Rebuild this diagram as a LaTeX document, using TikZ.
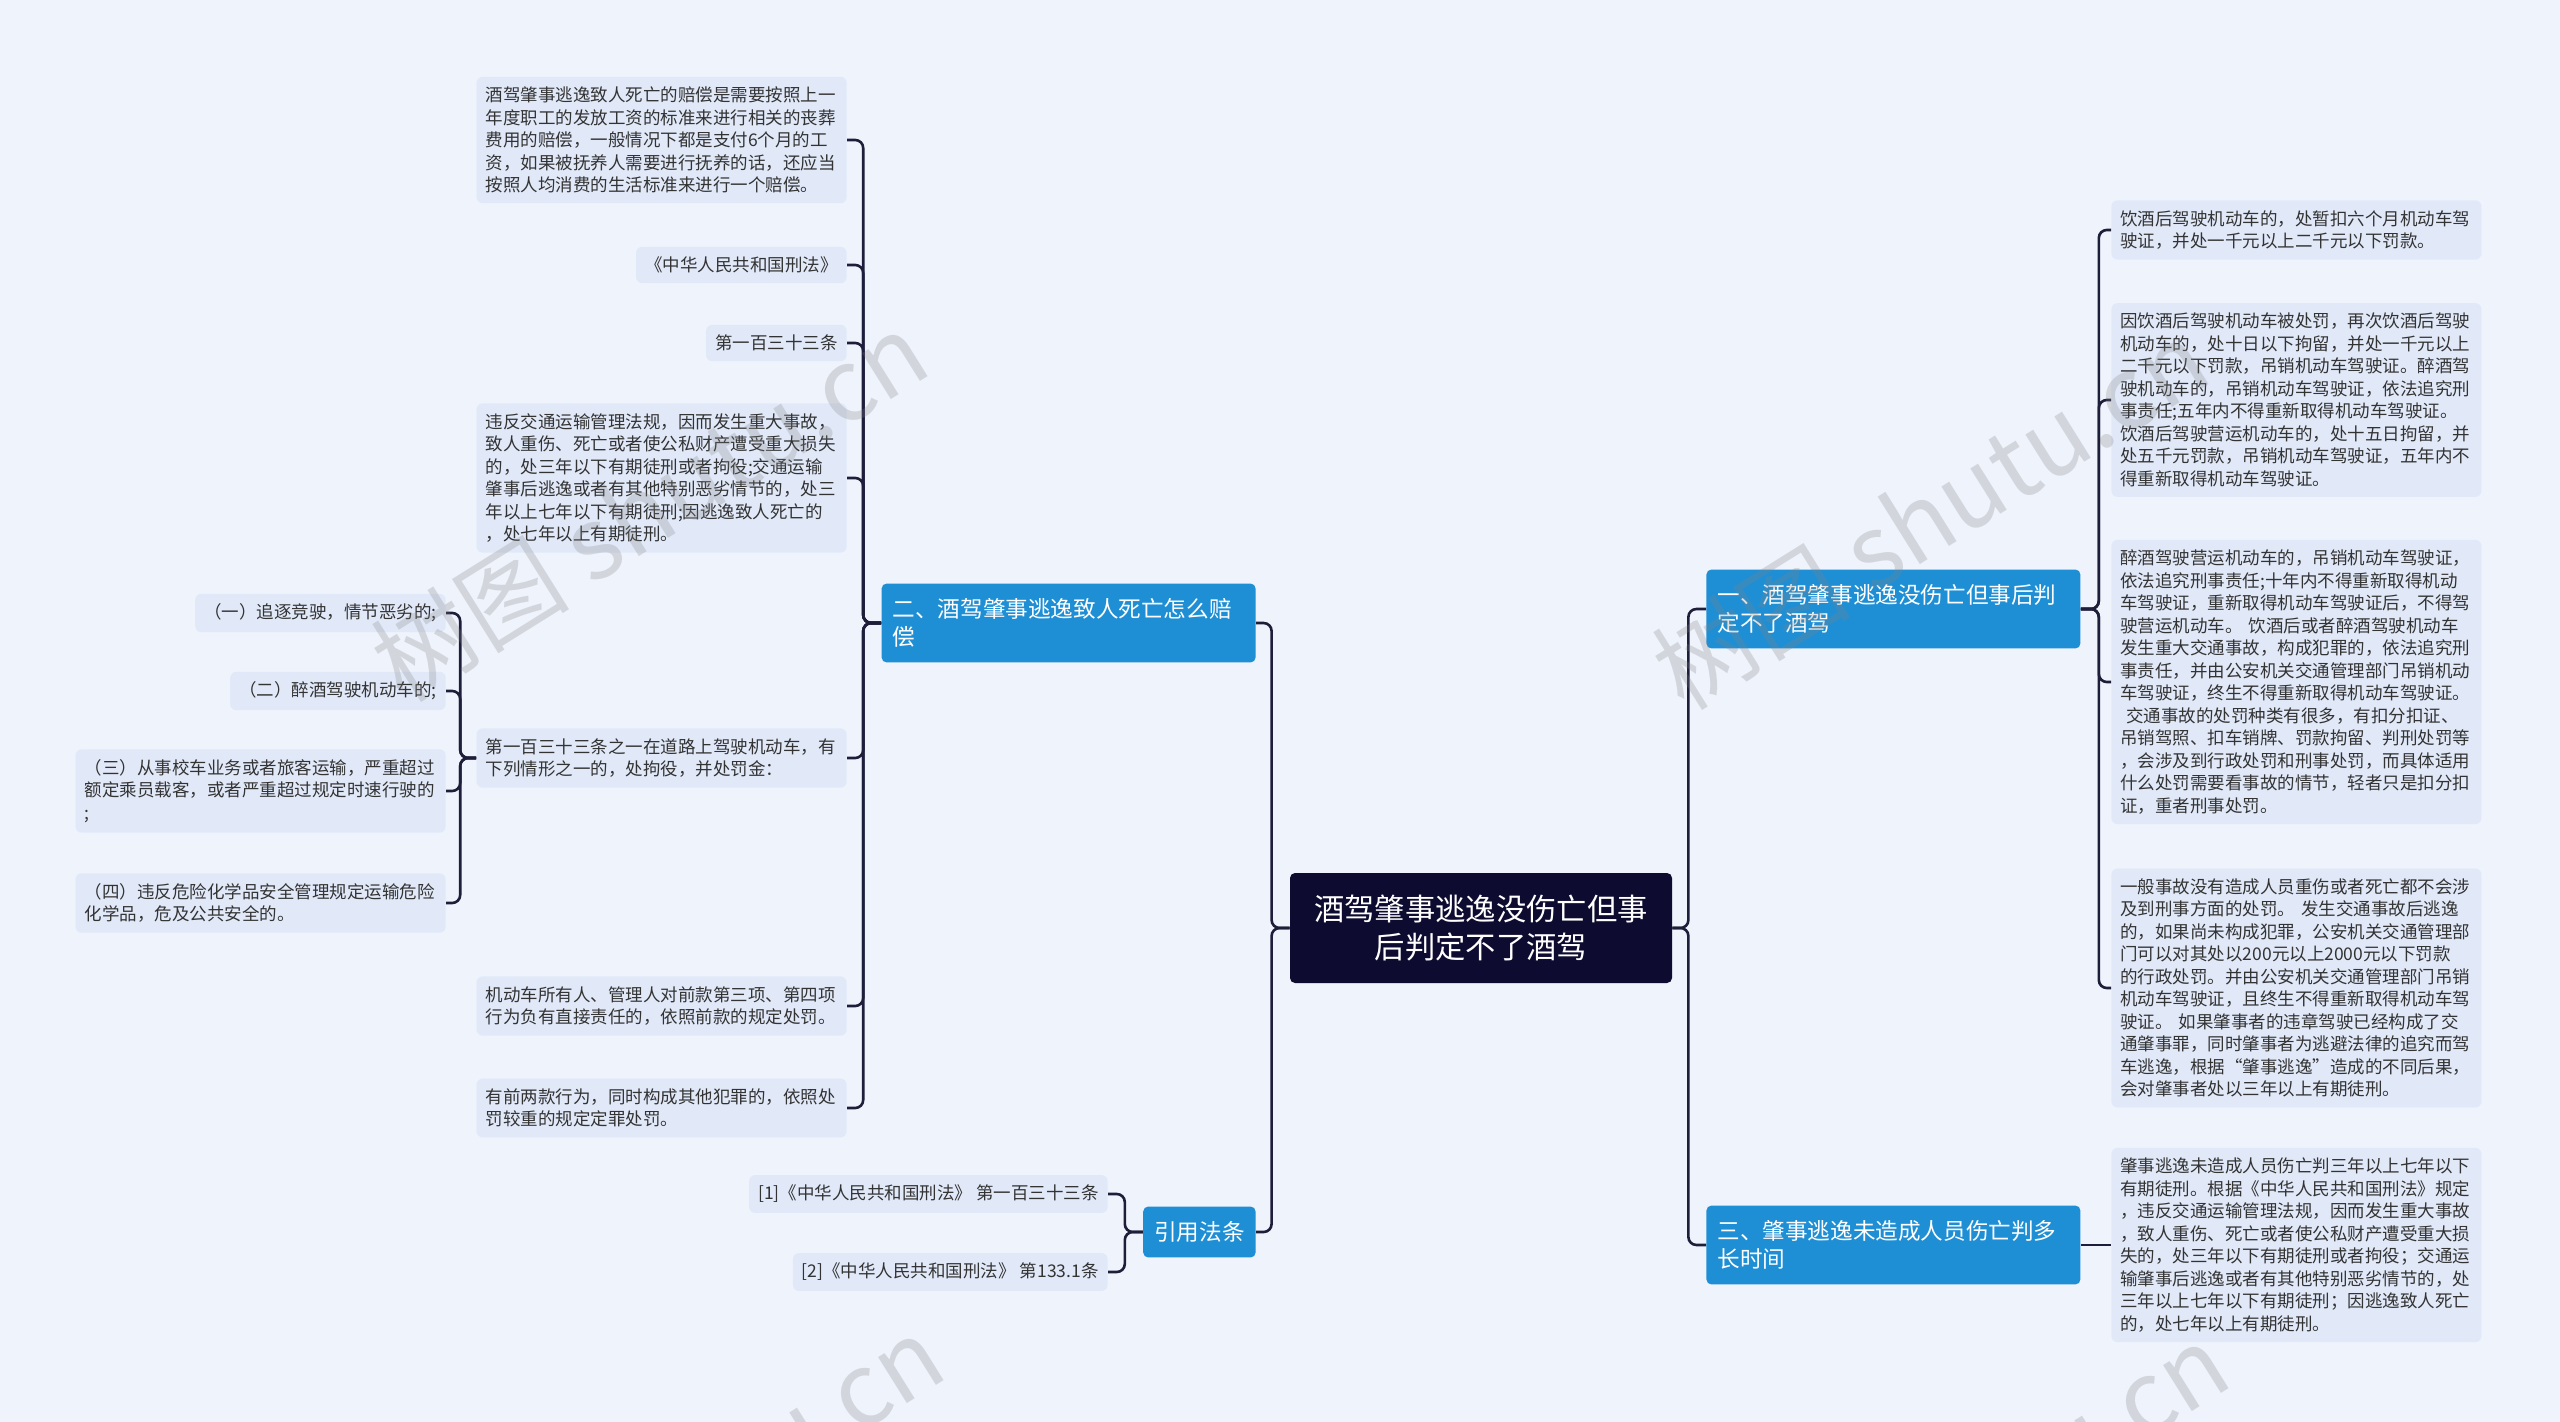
\documentclass[tikz,border=0pt]{standalone}
\usepackage{fontspec}
\setmainfont{Noto Sans CJK SC}
\definecolor{bgcol}{HTML}{EEF3FC}
\definecolor{leafcol}{HTML}{E1E9F9}
\definecolor{branchcol}{HTML}{1F8FD5}
\definecolor{rootcol}{HTML}{0D0B2F}
\definecolor{linecol}{HTML}{1E1D3A}
\definecolor{txtcol}{HTML}{333333}
\begin{document}
\begin{tikzpicture}[x=0.5pt, y=-0.5pt,
  leaf/.style={fill=leafcol, rounded corners=3pt, text=txtcol, inner xsep=4.5pt, inner ysep=5pt,
    font=\fontsize{8.75pt}{11.25pt}\selectfont},
  longleaf/.style={leaf, text width=176pt, align=left},
  branch/.style={fill=branchcol, rounded corners=2.5pt, text=white, inner xsep=5.5pt, inner ysep=7.5pt,
    font=\fontsize{11.3pt}{14pt}\selectfont, align=left},
  rootbox/.style={fill=rootcol, rounded corners=2.5pt, text=white, minimum width=191pt, minimum height=55pt,
    font=\fontsize{15.15pt}{19pt}\selectfont, align=center},
  conn/.style={draw=linecol, line width=1.3pt, rounded corners=4pt},
  wmtext/.style={text=gray, opacity=0.25, font=\fontsize{50pt}{50pt}\selectfont, rotate=32}]

  % --- 背景 ---
  \useasboundingbox (0,0) rectangle (2560,1422);
  \fill[bgcol] (0,0) rectangle (2560,1422);

  % --- 中心主题 ---
  \node[rootbox] (root) at (1481,928) {酒驾肇事逃逸没伤亡但事\\后判定不了酒驾};

  % --- 一级分支 ---
  \node[branch, text width=176pt, anchor=east] (b2) at (1256,623) {二、酒驾肇事逃逸致人死亡怎么赔\\偿};
  \node[branch, anchor=east] (b4) at (1256,1232) {引用法条};
  \node[branch, text width=176pt, anchor=west] (b1) at (1706,609) {一、酒驾肇事逃逸没伤亡但事后判\\定不了酒驾};
  \node[branch, text width=176pt, anchor=west] (b3) at (1706,1245) {三、肇事逃逸未造成人员伤亡判多\\长时间};

  % --- 分支二的内容 ---
  \node[longleaf, anchor=east] (l1) at (847,140) {酒驾肇事逃逸致人死亡的赔偿是需要按照上一\\年度职工的发放工资的标准来进行相关的丧葬\\费用的赔偿，一般情况下都是支付6个月的工\\资，如果被抚养人需要进行抚养的话，还应当\\按照人均消费的生活标准来进行一个赔偿。};
  \node[leaf, anchor=east] (l2) at (847,265) {《中华人民共和国刑法》};
  \node[leaf, anchor=east] (l3) at (847,343) {第一百三十三条};
  \node[longleaf, anchor=east] (l4) at (847,478) {违反交通运输管理法规，因而发生重大事故，\\致人重伤、死亡或者使公私财产遭受重大损失\\的，处三年以下有期徒刑或者拘役;交通运输\\肇事后逃逸或者有其他特别恶劣情节的，处三\\年以上七年以下有期徒刑;因逃逸致人死亡的\\，处七年以上有期徒刑。};
  \node[longleaf, anchor=east] (l5) at (847,758) {第一百三十三条之一在道路上驾驶机动车，有\\下列情形之一的，处拘役，并处罚金：};
  \node[longleaf, anchor=east] (l6) at (847,1006) {机动车所有人、管理人对前款第三项、第四项\\行为负有直接责任的，依照前款的规定处罚。};
  \node[longleaf, anchor=east] (l7) at (847,1108) {有前两款行为，同时构成其他犯罪的，依照处\\罚较重的规定定罪处罚。};

  % 第一百三十三条之一的各项情形
  \node[leaf, anchor=east] (s1) at (446,613) {（一）追逐竞驶，情节恶劣的;};
  \node[leaf, anchor=east] (s2) at (446,691) {（二）醉酒驾驶机动车的;};
  \node[longleaf, anchor=east] (s3) at (446,791) {（三）从事校车业务或者旅客运输，严重超过\\额定乘员载客，或者严重超过规定时速行驶的\\;};
  \node[longleaf, anchor=east] (s4) at (446,903) {（四）违反危险化学品安全管理规定运输危险\\化学品，危及公共安全的。};

  % --- 引用法条 ---
  \node[leaf, anchor=east] (c1) at (1108,1194) {[1]《中华人民共和国刑法》 第一百三十三条};
  \node[leaf, anchor=east] (c2) at (1108,1272) {[2]《中华人民共和国刑法》 第133.1条};

  % --- 分支一的内容 ---
  \node[longleaf, anchor=west] (r1) at (2111,230) {饮酒后驾驶机动车的，处暂扣六个月机动车驾\\驶证，并处一千元以上二千元以下罚款。};
  \node[longleaf, anchor=west] (r2) at (2111,400) {因饮酒后驾驶机动车被处罚，再次饮酒后驾驶\\机动车的，处十日以下拘留，并处一千元以上\\二千元以下罚款，吊销机动车驾驶证。醉酒驾\\驶机动车的，吊销机动车驾驶证，依法追究刑\\事责任;五年内不得重新取得机动车驾驶证。\\饮酒后驾驶营运机动车的，处十五日拘留，并\\处五千元罚款，吊销机动车驾驶证，五年内不\\得重新取得机动车驾驶证。};
  \node[longleaf, anchor=west] (r3) at (2111,682) {醉酒驾驶营运机动车的，吊销机动车驾驶证，\\依法追究刑事责任;十年内不得重新取得机动\\车驾驶证，重新取得机动车驾驶证后，不得驾\\驶营运机动车。 饮酒后或者醉酒驾驶机动车\\发生重大交通事故，构成犯罪的，依法追究刑\\事责任，并由公安机关交通管理部门吊销机动\\车驾驶证，终生不得重新取得机动车驾驶证。\\\ 交通事故的处罚种类有很多，有扣分扣证、\\吊销驾照、扣车销牌、罚款拘留、判刑处罚等\\，会涉及到行政处罚和刑事处罚，而具体适用\\什么处罚需要看事故的情节，轻者只是扣分扣\\证，重者刑事处罚。};
  \node[longleaf, anchor=west] (r4) at (2111,988) {一般事故没有造成人员重伤或者死亡都不会涉\\及到刑事方面的处罚。 发生交通事故后逃逸\\的，如果尚未构成犯罪，公安机关交通管理部\\门可以对其处以200元以上2000元以下罚款\\的行政处罚。并由公安机关交通管理部门吊销\\机动车驾驶证，且终生不得重新取得机动车驾\\驶证。 如果肇事者的违章驾驶已经构成了交\\通肇事罪，同时肇事者为逃避法律的追究而驾\\车逃逸，根据“肇事逃逸”造成的不同后果，\\会对肇事者处以三年以上有期徒刑。};

  % --- 分支三的内容 ---
  \node[longleaf, anchor=west] (r5) at (2111,1245) {肇事逃逸未造成人员伤亡判三年以上七年以下\\有期徒刑。根据《中华人民共和国刑法》规定\\，违反交通运输管理法规，因而发生重大事故\\，致人重伤、死亡或者使公私财产遭受重大损\\失的，处三年以下有期徒刑或者拘役；交通运\\输肇事后逃逸或者有其他特别恶劣情节的，处\\三年以上七年以下有期徒刑；因逃逸致人死亡\\的，处七年以上有期徒刑。};

  % --- 连线 ---
  \foreach \c in {b2,b4} \draw[conn] (root.west) -- ++(-18,0) |- (\c.east);
  \foreach \c in {b1,b3} \draw[conn] (root.east) -- ++(16,0) |- (\c.west);
  \foreach \c in {l1,l2,l3,l4,l5,l6,l7} \draw[conn] (b2.west) -- ++(-18,0) |- (\c.east);
  \foreach \c in {s1,s2,s3,s4} \draw[conn] (l5.west) -- ++(-16,0) |- (\c.east);
  \foreach \c in {c1,c2} \draw[conn] (b4.west) -- ++(-18,0) |- (\c.east);
  \foreach \c in {r1,r2,r3,r4} \draw[conn] (b1.east) -- ++(18,0) |- (\c.west);
  \draw[conn] (b3.east) -- (r5.west);

  % --- 水印 ---
  \begin{scope}
    \clip (0,0) rectangle (2560,1422);
    \node[wmtext] (wm1) at (649,506) {树图 shutu.cn};
    \node[wmtext] (wm2) at (1930,514) {树图 shutu.cn};
    \node[wmtext] (wm3) at (665,1510) {树图 shutu.cn};
    \node[wmtext] (wm4) at (1950,1518) {树图 shutu.cn};
  \end{scope}

\end{tikzpicture}
\end{document}
